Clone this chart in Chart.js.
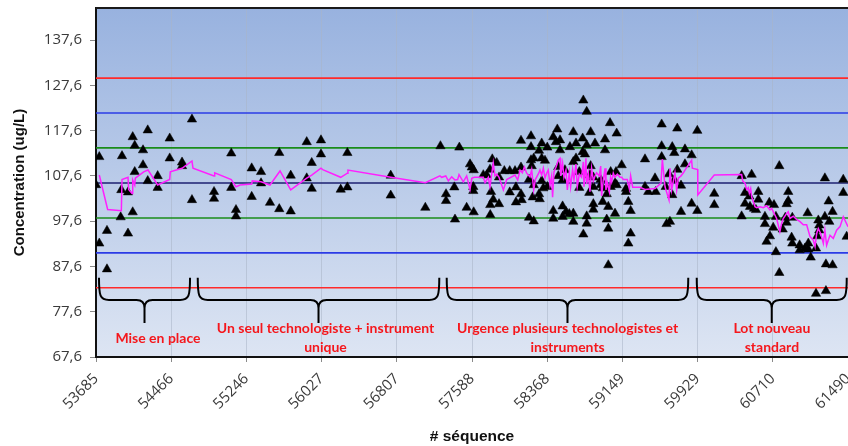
<!DOCTYPE html>
<html>
<head>
<meta charset="utf-8">
<script src="https://cdn.jsdelivr.net/npm/chart.js@4/dist/chart.umd.min.js"></script>
<style>
  html, body { margin: 0; padding: 0; background: #ffffff; overflow: hidden; }
  #wrap { width: 870px; height: 446px; }
</style>
</head>
<body>
<div id="wrap"><canvas id="c" width="870" height="446"></canvas></div>
<script>
// ---------------- DATA ----------------
const seqTicks = [53685, 54465.5, 55246, 56026.5, 56807, 57587.5, 58368, 59148.5, 59929, 60709.5, 61490];
const concTicks = [67.6, 77.6, 87.6, 97.6, 107.6, 117.6, 127.6, 137.6];

// control-limit values (mean ± 1, 2, 3 SD)
const limitNames  = ['+3 SD', '+2 SD', '+1 SD', 'Moyenne', '-1 SD', '-2 SD', '-3 SD'];
const limitValues = [129.2, 121.5, 113.8, 106.05, 98.3, 90.6, 82.9];

// individual QC results (# séquence, concentration)
const qcSeq = [
  53685,53719,53719,53799,53799,53941,53948,53955,54017,54017,54066,54087,54066,54087,54173,54173,54222,54222,
  54325,54325,54450,54450,54578,54578,54681,54681,54910,54910,55089,55089,55138,55138,
  55301,55301,55398,55398,55491,55587,55587,55706,55706,55872,55872,55924,55924,56020,56020,56225,56294,56294,
  56744,56744,57103,57260,
  57411,57456,57318,57318,57404,57532,57567,57585,57605,57601,57601,57605,57705,57740,57774,57785,57798,57844,
  57808,57777,57777,57868,57868,57923,57979,58034,57979,58044,58044,58096,58096,58096,58103,58179,58179,58200,
  58200,58200,58207,58228,58228,58218,58228,58283,58283,58290,58311,58311,58311,58328,
  58743,58778,58369,58345,58431,58473,58459,58501,58501,58483,58483,58528,58552,58369,58431,58431,58528,58528,
  58563,58604,58597,58639,58639,58639,58667,58639,58667,58701,58701,58736,58736,58760,58743,58778,58778,58778,
  58805,58819,58819,58812,58847,58847,58847,58847,58864,58923,58923,58944,58944,58968,58968,58986,58986,59002,
  59002,59002,59020,59027,59027,59082,59072,59089,59072,59089,59141,59186,59186,59210,59234,59234,59210,59383,
  59383,59417,
  59556,59718,59926,59556,59556,59666,59687,59798,59867,59798,59718,59632,59687,59757,59487,59598,59494,59666,
  59757,59867,59926,60102,60102,60386,60386,59607,59642,
  60490,60777,61250,61441,61441,60421,60466,60559,60559,60421,60473,60514,60535,60673,60722,60628,60628,60714,
  60680,60645,60742,60742,60777,60870,60870,60853,60839,60853,60812,60912,60905,60912,60988,60988,61043,61078,
  61078,61103,61071,61158,61171,61182,61192,61192,61250,61289,61330,61296,61261,61330,61158,61261,61476
];
const qcConc = [
  105.6,111.8,92.7,95.5,87.0,98.5,104.5,112.0,104.0,94.9,116.2,114.3,99.6,108.5,113.3,110.0,117.7,106.5,
  107.6,105.0,115.9,111.5,110.6,109.8,120.1,102.3,104.1,102.6,112.6,105.0,100.1,98.7,
  109.3,103.0,108.5,106.0,101.7,112.7,100.3,107.7,99.8,115.1,107.1,110.5,104.8,115.5,112.4,104.6,112.7,105.1,
  107.7,103.3,100.6,114.2,
  98.0,113.9,103.6,102.1,105.1,100.6,110.2,109.5,108.9,105.2,104.3,99.6,107.8,107.8,109.0,104.1,111.3,110.5,
  102.4,101.2,99.0,107.3,101.4,108.7,108.7,108.7,104.0,105.1,101.8,109.5,115.4,103.6,102.3,106.8,98.4,116.4,
  114.0,111.1,109.8,105.6,97.6,102.9,111.5,113.2,103.6,102.5,114.8,111.5,106.5,104.9,
  124.3,121.8,113.9,111.0,116.2,117.9,115.1,115.5,113.3,109.6,107.6,106.7,108.9,105.2,99.9,98.2,100.9,98.6,
  99.7,114.0,99.2,117.3,99.3,97.5,114.8,110.7,111.5,108.5,105.0,115.9,112.9,112.4,94.7,114.4,98.7,97.1,
  103.9,117.3,109.8,107.8,107.3,105.2,101.4,100.2,114.8,106.8,105.6,104.9,101.9,115.7,113.3,103.6,98.0,96.0,
  87.9,100.8,119.3,108.5,105.2,108.5,106.0,117.0,99.3,105.6,110.0,104.8,104.1,101.9,99.9,94.9,92.7,111.3,
  105.2,104.1,
  119.0,118.1,117.6,114.2,111.8,114.0,112.7,113.5,112.2,110.2,109.0,108.0,106.7,105.5,107.1,105.2,104.1,103.4,
  99.7,101.5,99.9,103.7,101.2,107.6,98.7,97.0,97.5,
  107.9,109.8,107.1,106.8,103.9,103.9,103.1,104.1,102.4,101.5,100.8,100.4,100.1,101.7,101.2,98.6,97.0,96.2,
  94.3,93.1,98.6,90.8,86.2,104.1,102.1,101.4,98.4,97.3,95.8,98.4,94.0,92.7,92.3,91.2,91.6,92.7,
  91.4,89.6,99.4,91.6,94.3,97.8,96.7,95.6,98.6,102.0,99.7,97.5,88.1,87.9,81.6,82.2,94.2
];

// moving-average line (magenta)
const avgSeq = [
  53719,53806,53948,53955,54017,54024,54059,54066,54087,54093,54180,54225,54325,54450,54456,54578,54681,54692,
  54910,54917,55089,55138,55180,55301,55307,55398,55491,55595,55706,55872,55924,56020,56038,56225,56294,56300,
  56744,57103,57255,57273,57315,57342,57377,57411,57439,57453,57497,57532,57567,57585,57611,57705,57723,57757,
  57774,57808,57826,57844,57868,57913,57948,58034,58062,58086,58110,58131,58155,58189,58207,58228,58245,58280,
  58293,58310,58328,58345,58362,58379,58397,58414,58424,58438,58459,58483,58501,58508,58528,58542,58563,58577,
  58597,58611,58632,58646,58667,58680,58701,58725,58743,58750,58770,58777,58795,58812,58829,58847,58864,58881,
  58909,58923,58933,58950,58968,58978,58992,59013,59026,59037,59054,59071,59096,59123,59141,59158,59199,59220,
  59234,59255,59296,59331,59383,59487,59549,59563,59591,59619,59632,59643,59660,59694,59712,59729,59757,59781,
  59798,59867,59874,59930,59931,60102,60386,60397,60421,60438,60456,60466,60480,60490,60507,60525,60542,60577,
  60611,60645,60680,60698,60714,60749,60783,60801,60818,60853,60870,60888,60922,60957,60992,61026,61061,61096,
  61130,61148,61165,61182,61206,61234,61250,61268,61285,61303,61337,61372,61407,61441,61490
];
const avgConc = [
  107.8,100.2,99.9,106.8,107.3,104.6,103.7,106.7,105.6,107.1,108.5,108.9,105.6,106.8,108.5,109.3,110.9,109.3,
  107.6,108.3,106.8,105.2,105.6,105.8,106.5,106.3,105.6,108.7,104.5,107.1,107.8,109.3,109.0,107.3,108.2,108.9,
  107.3,106.1,107.6,107.3,107.6,106.5,107.4,106.7,106.8,107.9,106.3,107.6,104.6,107.1,107.3,107.3,106.1,107.3,
  105.2,110.5,107.6,108.0,107.3,104.5,106.8,107.8,106.7,108.9,108.3,109.6,108.2,107.4,109.0,104.5,106.8,108.2,
  108.9,107.8,109.3,107.1,108.2,108.9,105.6,107.6,102.9,108.5,109.5,111.1,111.5,107.6,110.4,107.3,108.9,104.5,
  108.3,105.2,109.0,106.8,110.2,105.2,108.0,107.3,110.7,105.2,111.5,105.8,108.2,104.1,109.3,106.5,107.6,108.3,
  107.6,109.8,103.2,106.7,109.3,104.5,106.1,104.1,107.3,106.3,108.2,107.3,108.0,107.3,107.3,106.8,106.8,104.8,
  107.6,105.1,105.1,105.1,104.6,104.8,106.0,111.3,105.2,103.2,102.3,109.3,104.5,108.3,104.5,107.1,107.6,108.3,
  108.9,111.1,109.3,109.0,103.4,107.8,107.9,106.5,106.0,104.6,105.0,103.8,104.8,103.0,101.9,100.8,100.6,100.8,
  100.6,101.0,100.1,100.4,99.7,98.2,95.3,97.1,98.2,99.3,99.7,98.2,98.7,98.0,97.5,96.8,96.8,94.2,
  93.4,92.0,94.9,96.0,94.9,92.7,95.6,92.3,93.4,94.5,93.8,95.6,96.4,98.6,96.4
];

// phases annotated under the chart
const phaseLabels = [
  ['Mise en place'],
  ['Un seul technologiste + instrument', 'unique'],
  ['Urgence plusieurs technologistes et', 'instruments'],
  ['Lot nouveau', 'standard']
];
const phaseStart = [53716, 54741, 57325, 59920];
const phaseEnd   = [54661, 57248, 59832, 61477];

// ---------------- STYLE ----------------
const limitColors = ['#ff2a2a', '#2b3be6', '#1a8c1a', '#1c2070', '#1a8c1a', '#2b3be6', '#ff2a2a'];
const phaseTextX = [54328, 56067, 58580, 60700];   // text centre (x-scale units)
const braceGeom = { top: 85.1, mid: 80.2, tip: 75.1, text: 71.8 }; // y-scale units

const limitDatasets = limitValues.map((v, i) => ({
  type: 'line',
  label: limitNames[i],
  data: [{ x: seqTicks[0], y: v }, { x: seqTicks[seqTicks.length - 1], y: v }],
  borderColor: limitColors[i],
  borderWidth: 1.6,
  pointRadius: 0,
  order: 3
}));

const bgPlugin = {
  id: 'bg',
  beforeDraw(chart) {
    const { ctx, chartArea: a } = chart;
    const g = ctx.createLinearGradient(0, a.top, 0, a.bottom);
    g.addColorStop(0, '#98b2df');
    g.addColorStop(1, '#dde5f3');
    ctx.save();
    ctx.fillStyle = g;
    ctx.fillRect(a.left, a.top, a.right - a.left, a.bottom - a.top);
    ctx.restore();
  }
};

const decoPlugin = {
  id: 'deco',
  afterDatasetsDraw(chart) {
    const { ctx, chartArea: a, scales } = chart;
    const xs = scales.x, ys = scales.y;
    ctx.save();
    // top border of the plot
    ctx.strokeStyle = '#1a1a1a';
    ctx.lineWidth = 2;
    ctx.beginPath();
    ctx.moveTo(a.left, a.top);
    ctx.lineTo(a.right + 2, a.top);
    ctx.stroke();

    // braces
    const yT = ys.getPixelForValue(braceGeom.top);
    const yM = ys.getPixelForValue(braceGeom.mid);
    const yP = ys.getPixelForValue(braceGeom.tip);
    ctx.strokeStyle = '#000';
    ctx.lineWidth = 2;
    ctx.lineJoin = 'round';
    for (let i = 0; i < phaseStart.length; i++) {
      const xL = xs.getPixelForValue(phaseStart[i]);
      const xR = xs.getPixelForValue(phaseEnd[i]);
      const xC = (xL + xR) / 2;
      ctx.beginPath();
      ctx.moveTo(xL, yT);
      ctx.bezierCurveTo(xL, yM - 4, xL + 1, yM, xL + 10, yM);
      ctx.lineTo(xC - 8, yM);
      ctx.quadraticCurveTo(xC, yM, xC, yM + 8);
      ctx.lineTo(xC, yP);
      ctx.moveTo(xC, yM + 8);
      ctx.quadraticCurveTo(xC, yM, xC + 8, yM);
      ctx.lineTo(xR - 10, yM);
      ctx.bezierCurveTo(xR - 1, yM, xR, yM - 4, xR, yT);
      ctx.stroke();
    }
    // phase labels
    ctx.fillStyle = '#f5171c';
    ctx.font = 'bold 14px Lato, "Open Sans", sans-serif';
    ctx.textAlign = 'center';
    ctx.textBaseline = 'middle';
    const yTxt = ys.getPixelForValue(braceGeom.text);
    phaseLabels.forEach((lines, i) => {
      const cx = xs.getPixelForValue(phaseTextX[i]);
      const lh = 18.5;
      const y0 = yTxt - (lines.length - 1) * lh / 2;
      lines.forEach((t, k) => ctx.fillText(t, cx, y0 + k * lh));
    });
    ctx.restore();
  }
};

new Chart(document.getElementById('c'), {
  type: 'scatter',
  data: {
    datasets: [
      {
        type: 'scatter',
        label: 'Résultats',
        data: qcSeq.map((s, i) => ({ x: s, y: qcConc[i] })),
        pointStyle: 'triangle',
        pointRadius: 5.4,
        pointHoverRadius: 5.4,
        backgroundColor: '#000',
        borderColor: '#000',
        borderWidth: 0.5,
        order: 2
      },
      {
        type: 'line',
        label: 'Moyenne mobile',
        data: avgSeq.map((s, i) => ({ x: s, y: avgConc[i] })),
        borderColor: '#ff1fff',
        borderWidth: 1.5,
        pointRadius: 0,
        tension: 0,
        order: 1
      },
      ...limitDatasets
    ]
  },
  options: {
    responsive: false,
    animation: false,
    layout: { padding: { left: 0, top: 8, right: 22, bottom: 0 } },
    plugins: { legend: { display: false }, tooltip: { enabled: false } },
    scales: {
      x: {
        type: 'linear',
        min: seqTicks[0],
        max: seqTicks[seqTicks.length - 1],
        afterBuildTicks(scale) { scale.ticks = seqTicks.map(v => ({ value: v })); },
        afterFit(scale) { scale.height = 89; scale.paddingLeft = 0; scale.paddingRight = 0; },
        ticks: {
          autoSkip: false,
          minRotation: 45,
          maxRotation: 45,
          padding: 8,
          color: '#3a3a3a',
          font: { family: '"Open Sans", sans-serif', size: 15 },
          callback: v => String(Math.round(v))
        },
        grid: { color: 'rgba(170,180,198,0.55)', lineWidth: 1, tickLength: 5, tickColor: '#8a8a8a' },
        border: { color: '#111', width: 2 },
        title: {
          display: true,
          text: '# séquence',
          color: '#111',
          font: { family: '"Liberation Sans", Arial, sans-serif', size: 15.5, weight: 'bold' },
          padding: { top: 0, bottom: 0 }
        }
      },
      y: {
        type: 'linear',
        min: 67.6,
        max: 144.7,
        afterBuildTicks(scale) { scale.ticks = concTicks.map(v => ({ value: v })); },
        afterFit(scale) { scale.width = 96; scale.paddingTop = 0; scale.paddingBottom = 0; },
        ticks: {
          padding: 8,
          color: '#3a3a3a',
          font: { family: '"Open Sans", sans-serif', size: 15 },
          callback: v => v.toFixed(1).replace('.', ',')
        },
        grid: { drawOnChartArea: false, tickLength: 6, tickColor: '#8a8a8a' },
        border: { color: '#111', width: 2 },
        title: {
          display: true,
          text: 'Concentration (ug/L)',
          color: '#111',
          font: { family: '"Liberation Sans", Arial, sans-serif', size: 15, weight: 'bold' },
          padding: { top: 11, bottom: 0 }
        }
      }
    }
  },
  plugins: [bgPlugin, decoPlugin]
});
</script>
</body>
</html>
